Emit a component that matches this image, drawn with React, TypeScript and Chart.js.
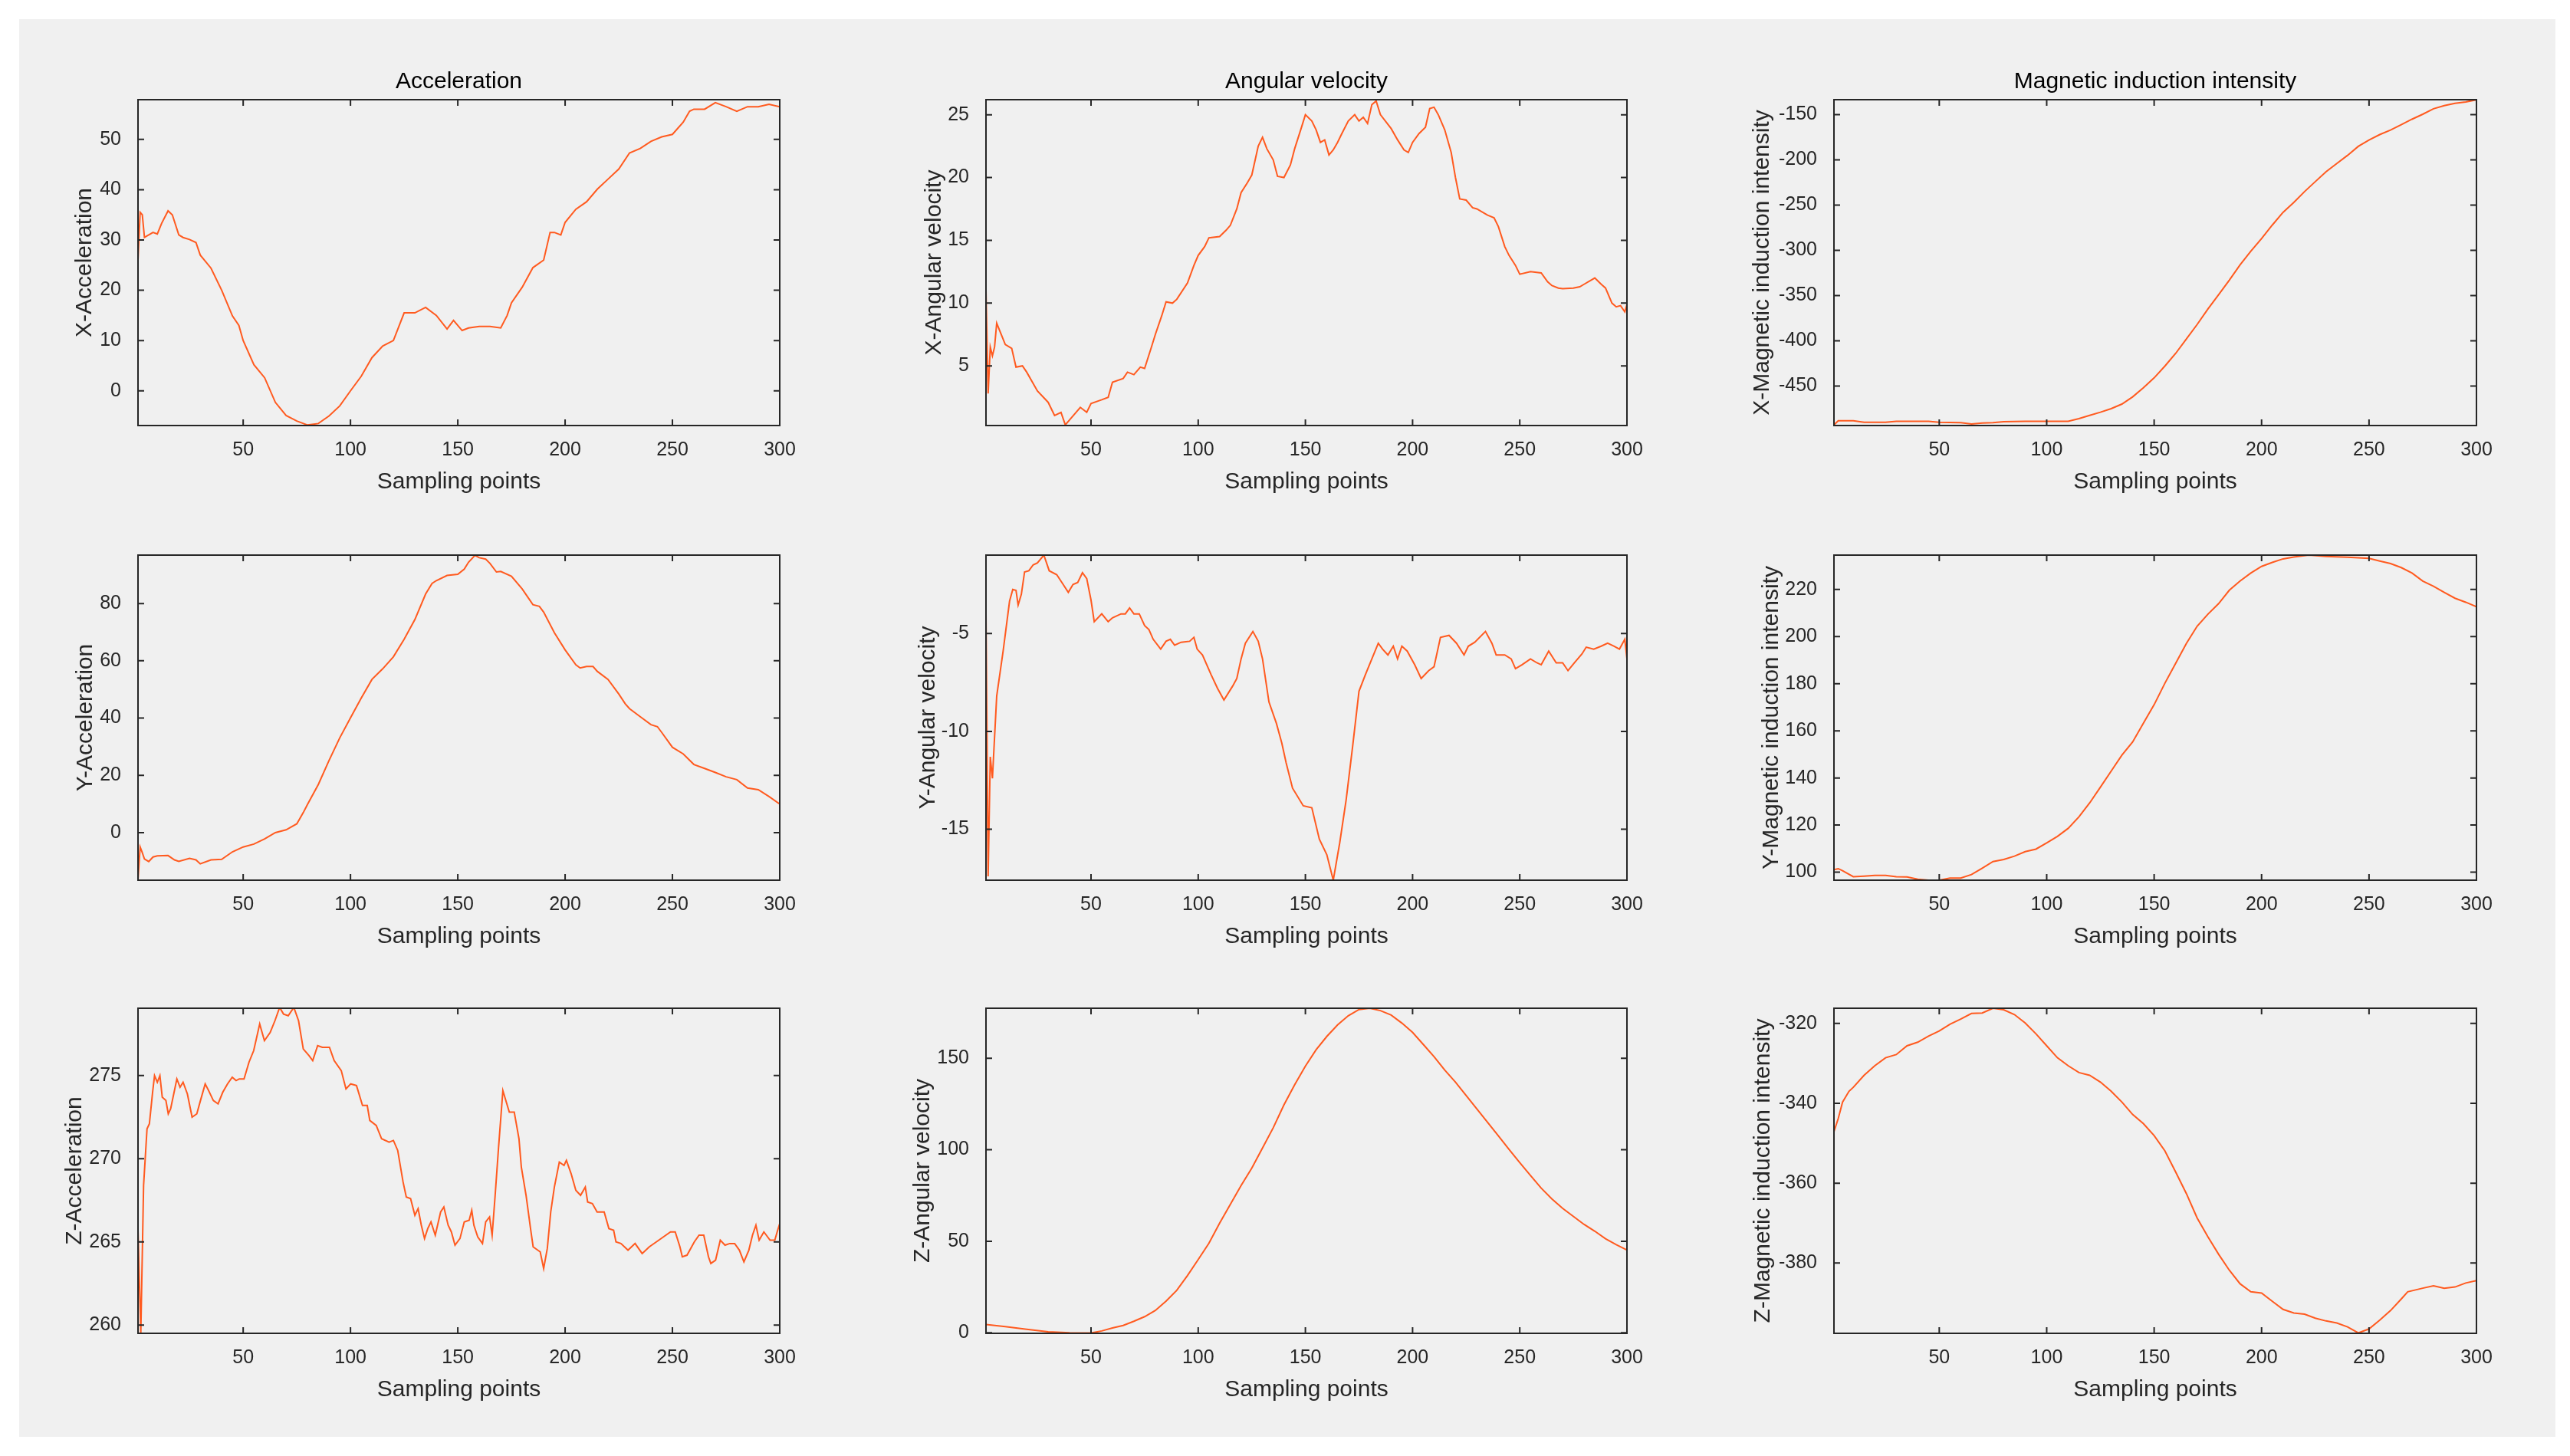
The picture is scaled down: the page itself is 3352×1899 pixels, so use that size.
import React, { useEffect, useRef } from "react";
import { Chart, registerables } from "chart.js";

Chart.register(...registerables);

// ---------- Text ----------
const columnTitles = ["Acceleration", "Angular velocity", "Magnetic induction intensity"];
const xAxisLabel = "Sampling points";
const yAxisLabels = [
  ["X-Acceleration", "X-Angular velocity", "X-Magnetic induction intensity"],
  ["Y-Acceleration", "Y-Angular velocity", "Y-Magnetic induction intensity"],
  ["Z-Acceleration", "Z-Angular velocity", "Z-Magnetic induction intensity"],
];

// ---------- Tick values ----------
const xTicks = [50, 100, 150, 200, 250, 300];
const accXTicks = [0, 10, 20, 30, 40, 50];
const angXTicks = [5, 10, 15, 20, 25];
const magXTicks = [-450, -400, -350, -300, -250, -200, -150];
const accYTicks = [0, 20, 40, 60, 80];
const angYTicks = [-15, -10, -5];
const magYTicks = [100, 120, 140, 160, 180, 200, 220];
const accZTicks = [260, 265, 270, 275];
const angZTicks = [0, 50, 100, 150];
const magZTicks = [-380, -360, -340, -320];

// ---------- Axis limits (tight to the data) ----------
const accXRange = [-6.9, 57.9];
const angXRange = [0.25, 26.2];
const magXRange = [-493.7, -133.4];
const accYRange = [-16.6, 96.9];
const angYRange = [-17.6, -1.0];
const magYRange = [96.6, 234.6];
const accZRange = [259.5, 279.05];
const angZRange = [-0.3, 177.3];
const magZRange = [-397.6, -316.2];

// ---------- Series (sampling point, value) ----------
const accXx = [1,2,3,4,8,10,12,15,17,20,22,25,28,30,35,40,45,48,50,55,60,65,70,75,80,85,90,95,100,105,110,115,120,125,130,135,140,145,148,152,155,160,165,170,173,175,180,185,190,193,195,198,200,205,210,215,220,225,230,235,240,245,250,255,258,260,265,270,275,280,285,290,295,300];
const accXy = [26,35.5,35,30.5,31.5,31.2,33.3,35.8,35,31,30.5,30.1,29.5,27,24.4,20,14.9,13,10,5.2,2.6,-2.3,-4.9,-6,-6.8,-6.5,-5,-3,0,2.9,6.6,8.9,10,15.5,15.5,16.6,15,12.3,14,12,12.5,12.8,12.8,12.5,15,17.5,20.6,24.5,26,31.5,31.5,31,33.5,36.1,37.6,40.1,42.1,44.1,47.3,48.2,49.6,50.5,51,53.4,55.6,56,56,57.3,56.5,55.6,56.5,56.5,57,56.5];

const angXx = [1,2,3,4,5,6,10,13,15,18,20,25,30,33,36,38,40,45,48,50,55,58,60,65,67,70,73,75,78,80,83,85,88,90,95,98,100,103,105,110,113,115,118,120,123,125,128,130,132,135,137,140,143,145,148,150,153,155,157,159,161,163,165,167,170,173,175,177,179,181,183,185,190,193,196,198,200,203,206,208,210,212,215,218,220,222,225,228,230,233,235,238,240,243,245,248,250,255,260,263,265,268,270,275,278,280,285,288,290,293,295,297,299,300];
const angXy = [11,2.8,6.5,5.8,6.5,8.4,6.7,6.4,4.9,5,4.5,3,2.1,1.05,1.3,0.3,0.7,1.7,1.3,2,2.3,2.5,3.7,4,4.5,4.3,4.9,4.8,6.4,7.5,9,10.1,10,10.3,11.6,13,13.8,14.5,15.2,15.3,15.8,16.2,17.5,18.8,19.6,20.2,22.5,23.2,22.3,21.4,20.1,20,21,22.3,23.9,25,24.5,23.8,22.8,23,21.8,22.2,22.8,23.5,24.5,25,24.5,24.8,24.3,25.8,26.1,25,23.9,23,22.2,22,22.8,23.5,24,25.5,25.6,25,23.8,22,20,18.3,18.2,17.6,17.5,17.2,17,16.8,16.1,14.5,13.8,13,12.3,12.5,12.4,11.7,11.4,11.2,11.15,11.2,11.3,11.5,12,11.5,11.2,10,9.7,9.8,9.3,9.9];

const magXx = [1,3,10,15,25,30,45,50,60,65,70,75,80,90,100,110,115,120,125,130,135,140,145,150,155,160,165,170,175,180,185,190,195,200,205,210,215,220,225,230,235,240,245,250,255,260,265,270,275,280,285,290,295,300];
const magXy = [-493,-488.5,-488.5,-490,-490,-489,-489,-490,-490.5,-492,-491,-490.5,-489.5,-489,-489,-489,-486,-482.5,-479,-475,-470,-462,-452,-441,-428,-414,-398,-382,-365,-349,-333,-316,-301,-287,-272,-258,-247,-235,-224,-213,-204,-195,-185,-178,-172,-167,-161,-155,-149.5,-143.5,-140,-137.5,-136,-133.5];

const accYx = [1,2,3,4,6,8,10,15,18,20,25,28,30,35,40,45,50,55,60,65,70,75,78,80,85,90,95,100,105,110,115,120,125,130,135,138,140,145,150,153,155,158,160,163,165,168,170,175,180,185,188,190,195,200,205,207,210,213,215,220,225,228,230,235,240,243,245,250,255,260,265,270,275,280,285,290,295,300];
const accYy = [-16.5,-5,-7,-9.2,-10.1,-8.5,-8.1,-8,-9.5,-10,-9,-9.5,-10.9,-9.5,-9.3,-6.7,-5,-4,-2.2,0,1,3.1,7,9.9,16.8,25.2,33.1,40.1,47,53.5,57.2,61.4,67.5,74.4,83.3,87,88,89.8,90.2,92,94.4,96.8,96,95.5,94,91,91.2,89.5,85.1,79.6,79,77,69.8,63.8,58.6,57.5,58,58,56.3,53.5,48.4,45,43.3,40.5,37.7,37,35,29.8,27.5,23.8,22.4,21,19.5,18.5,15.6,15,12.6,10];

const angYx = [1,2,3,4,6,9,12,13.5,15,16,17.5,19,21,23,25,28,30.5,34,37,39.4,41.6,43.8,46,48,50,51.5,55,58,60,64,66,68,70,72.5,75,77,79,82.5,85,87,89,92,96,98,99.5,102,106,109,112,116,118,120,122,125.5,128,130,133,136.5,139,141,144,149,153,156.5,160,163,166,169,172,175,178,181,184,186,188.5,191,193,195,197.5,201,204,207.5,210,213,217,220.5,224,226,229,234,237,239,243,246,248,251,255,258,260,263.5,267,270,272.5,275.5,279,281,284.5,288,291,294,296.5,299,300];
const angYy = [-4,-17.4,-11.3,-12.4,-8.2,-5.9,-3.35,-2.75,-2.8,-3.55,-3,-1.86,-1.8,-1.5,-1.4,-1,-1.8,-2,-2.5,-2.9,-2.5,-2.4,-1.9,-2.2,-3.3,-4.4,-4,-4.4,-4.2,-4,-4,-3.7,-4,-4,-4.6,-4.8,-5.3,-5.8,-5.4,-5.3,-5.6,-5.45,-5.4,-5.2,-5.8,-6.1,-7.1,-7.8,-8.4,-7.7,-7.3,-6.3,-5.5,-4.9,-5.4,-6.3,-8.5,-9.6,-10.6,-11.6,-12.9,-13.8,-13.9,-15.5,-16.3,-17.6,-15.7,-13.5,-10.8,-7.95,-7.1,-6.3,-5.5,-5.8,-6.1,-5.65,-6.3,-5.65,-5.9,-6.6,-7.3,-6.9,-6.7,-5.2,-5.1,-5.5,-6.1,-5.65,-5.45,-4.9,-5.5,-6.1,-6.1,-6.3,-6.8,-6.6,-6.3,-6.5,-6.6,-5.9,-6.5,-6.5,-6.9,-6.5,-6.05,-5.7,-5.8,-5.65,-5.5,-5.65,-5.8,-5.3,-6.3];

const magYx = [1,3,5,10,15,20,25,30,35,40,45,50,55,60,65,70,75,80,85,90,95,100,105,110,115,120,125,130,135,140,145,150,155,160,165,170,175,180,185,190,195,200,205,210,215,222,230,240,250,255,260,265,270,275,280,285,290,295,300];
const magYy = [101.1,101.5,100.6,98.1,98.3,98.6,98.6,98.1,98,97,96.6,96.6,97.5,97.5,99,101.7,104.5,105.4,106.8,108.7,109.8,112.4,115.2,118.6,123.5,129.4,136.1,142.9,149.7,155.3,163.2,171.1,180.2,188.6,197.1,204.4,209.5,214,219.7,223.6,227,229.8,231.5,233,233.8,234.6,234,233.7,233.2,232.1,231,229.3,227,223.6,221.4,218.8,216.3,214.6,212.7];

const accZx = [1,2.3,3.6,5.2,6.3,7.8,8.7,10,11.2,12.3,14,15.1,16.2,19.1,20.6,22,24,26.2,28.4,30.1,32.3,33.9,36.1,38.3,40.5,42.7,44.9,46.7,48.2,50.4,52.7,54.9,57.7,59.9,62.6,64.8,67,68.8,71,73.6,75.8,78,80.7,82.4,84.7,86.9,90.2,92.4,95.7,97.9,100.1,102.8,105.6,107.8,109,112,114.5,118,120,122,124.5,126,128,130,131.5,133,134.5,136,137.5,139.5,142,143.5,145.5,147,148.7,151,153,155.3,156.5,157.5,159.3,161.5,163,164.8,166,167.4,169,171,174,176.3,177.4,178.5,179.6,181.8,184,185.1,188.4,190,191.7,193.3,195,197.3,199.5,200.6,202.8,205,207.2,209.4,210.5,212.7,214.9,218.2,220.4,222.6,223.7,226,229.3,232.6,235.9,239.2,242.5,245.8,249.1,251.3,253.5,254.6,256.8,260.2,262.4,264.6,266.8,267.9,270.1,272.3,274.5,276.7,279,281.2,283.3,285.6,287.3,288.9,290.4,292.6,295.5,297.7,298.8,300];
const accZy = [265.7,259.5,268.4,271.8,272.1,274,275,274.6,275,273.7,273.5,272.7,273,274.8,274.3,274.6,273.9,272.5,272.7,273.5,274.5,274.1,273.5,273.3,274,274.5,274.9,274.7,274.8,274.8,275.8,276.5,278.1,277.1,277.6,278.3,279.1,278.7,278.6,279.1,278.3,276.6,276.2,275.9,276.8,276.7,276.7,275.9,275.3,274.2,274.5,274.4,273.2,273.2,272.3,272,271.2,271,271.1,270.5,268.6,267.7,267.6,266.6,267,266,265.2,265.8,266.2,265.4,266.8,267.1,266,265.6,264.8,265.2,266.2,266.3,266.9,266,265.3,264.9,266.2,266.5,265.4,267.8,270.7,274.1,272.8,272.8,272,271.2,269.5,267.8,265.7,264.7,264.4,263.4,264.6,266.8,268.3,269.8,269.6,269.9,269.1,268.1,267.8,268.3,267.4,267.3,266.8,266.8,265.8,265.7,265,264.9,264.5,264.9,264.3,264.7,265,265.3,265.6,265.6,264.7,264.1,264.2,265,265.4,265.4,264.1,263.7,263.9,265.1,264.8,264.9,264.9,264.5,263.8,264.5,265.4,266,265.1,265.6,265.1,265.1,265.6,266.1];

const angZx = [1,10,20,30,40,50,55,60,65,70,75,80,85,90,95,100,105,110,115,120,125,130,135,140,145,150,155,160,165,170,175,180,185,190,195,200,205,210,215,220,225,230,235,240,245,250,255,260,265,270,275,280,285,290,295,300];
const angZy = [4.5,3.4,1.9,0.5,0,-0.1,1,2.6,4,6.3,8.8,12.2,17.3,23.2,31.3,40,48.9,59.9,70.2,80.4,90,101,112,124.5,135.5,145.7,154.6,161.9,168.2,173.2,176.6,177.3,176,173.6,169.2,164.1,157.5,150.9,143.5,136.9,129.6,122.3,114.9,107.6,100.2,92.9,85.9,79,73.1,68,63.6,59.2,55.5,51.4,48.1,45.2];

const magZx = [1,3,5,8,10,15,20,25,30,35,40,45,50,55,60,65,70,75,80,85,90,95,100,105,110,115,120,125,130,135,140,145,150,155,160,165,170,175,180,185,190,195,200,205,210,215,220,225,230,235,240,245,250,255,260,265,268,275,280,285,290,295,300];
const magZy = [-347.1,-343.8,-339.7,-337,-336,-333,-330.6,-328.6,-327.8,-325.6,-324.7,-323.2,-321.9,-320.2,-318.9,-317.5,-317.4,-316.2,-316.6,-317.8,-319.9,-322.6,-325.6,-328.6,-330.6,-332.3,-333,-334.7,-337,-339.7,-342.8,-345.1,-348.1,-351.9,-357.2,-362.6,-368.7,-373.4,-377.8,-381.8,-385.2,-387.2,-387.5,-389.6,-391.6,-392.5,-392.8,-393.8,-394.5,-395,-396,-397.5,-396.5,-394.3,-391.9,-389,-387.2,-386.3,-385.7,-386.3,-386,-385,-384.4];

// ---------- Panel table (built from the arrays above) ----------
const panelSeries = [
  [
    { xs: accXx, ys: accXy, range: accXRange, ticks: accXTicks },
    { xs: angXx, ys: angXy, range: angXRange, ticks: angXTicks },
    { xs: magXx, ys: magXy, range: magXRange, ticks: magXTicks },
  ],
  [
    { xs: accYx, ys: accYy, range: accYRange, ticks: accYTicks },
    { xs: angYx, ys: angYy, range: angYRange, ticks: angYTicks },
    { xs: magYx, ys: magYy, range: magYRange, ticks: magYTicks },
  ],
  [
    { xs: accZx, ys: accZy, range: accZRange, ticks: accZTicks },
    { xs: angZx, ys: angZy, range: angZRange, ticks: angZTicks },
    { xs: magZx, ys: magZy, range: magZRange, ticks: magZTicks },
  ],
];

// ---------- Layout (pixels) ----------
const AX_L = [180, 1286, 2392];
const AX_R = [1017, 2122, 3230];
const AX_T = [130, 724, 1315];
const AX_B = [555, 1148, 1739];
const Y_TITLE_X = [
  [111, 1219, 2299],
  [112, 1211, 2311],
  [98, 1204, 2300],
];
const TOP_EXTRA = 60;
const RIGHT_EXTRA = 40;
const BOTTOM_EXTRA = 92;

const FONT = "'Liberation Sans', Arial, Helvetica, sans-serif";
const LINE_COLOR = "#ff5a1f";
const AXIS_COLOR = "#262626";

const matlabBox = {
  id: "matlabBox",
  afterDatasetsDraw(chart: any) {
    const { ctx, chartArea: a, scales } = chart;
    const tl = 8;
    ctx.save();
    ctx.strokeStyle = AXIS_COLOR;
    ctx.lineWidth = 2;
    ctx.beginPath();
    for (const t of scales.x.ticks) {
      const px = scales.x.getPixelForValue(t.value);
      ctx.moveTo(px, a.bottom);
      ctx.lineTo(px, a.bottom - tl);
      ctx.moveTo(px, a.top);
      ctx.lineTo(px, a.top + tl);
    }
    for (const t of scales.y.ticks) {
      const py = scales.y.getPixelForValue(t.value);
      ctx.moveTo(a.left, py);
      ctx.lineTo(a.left + tl, py);
      ctx.moveTo(a.right, py);
      ctx.lineTo(a.right - tl, py);
    }
    ctx.stroke();
    ctx.strokeRect(a.left, a.top, a.right - a.left, a.bottom - a.top);
    ctx.restore();
  },
};

function Panel({ r, c }: { r: number; c: number }) {
  const ref = useRef<HTMLCanvasElement>(null);
  const s = panelSeries[r][c];
  const lw = AX_L[c] - Y_TITLE_X[r][c] + 18;
  const left = AX_L[c] - lw;
  const top = AX_T[r] - TOP_EXTRA;
  const width = lw + (AX_R[c] - AX_L[c]) + RIGHT_EXTRA;
  const height = TOP_EXTRA + (AX_B[r] - AX_T[r]) + BOTTOM_EXTRA;

  useEffect(() => {
    const data = s.xs.map((x: number, i: number) => ({ x, y: s.ys[i] }));
    const yTickList = s.ticks;
    const chart = new Chart(ref.current as HTMLCanvasElement, {
      type: "line",
      data: {
        datasets: [
          {
            data,
            borderColor: LINE_COLOR,
            borderWidth: 2,
            pointRadius: 0,
            tension: 0,
            fill: false,
          },
        ],
      },
      options: {
        animation: false,
        responsive: false,
        devicePixelRatio: 1,
        parsing: false,
        layout: { padding: { top: r === 0 ? 19 : TOP_EXTRA, right: RIGHT_EXTRA, left: 0, bottom: 0 } },
        plugins: {
          legend: { display: false },
          tooltip: { enabled: false },
          title: {
            display: r === 0,
            text: columnTitles[c],
            fullSize: false,
            color: "#000000",
            font: { family: FONT, size: 30, weight: "normal" },
            padding: { top: 0, bottom: 5 },
          },
        },
        scales: {
          x: {
            type: "linear",
            min: 1,
            max: 300,
            grid: { display: false },
            border: { display: false },
            afterBuildTicks: (axis: any) => {
              axis.ticks = xTicks.map((v) => ({ value: v }));
            },
            afterFit: (axis: any) => {
              axis.height = BOTTOM_EXTRA;
            },
            ticks: {
              autoSkip: false,
              maxRotation: 0,
              padding: 9,
              color: AXIS_COLOR,
              font: { family: FONT, size: 25 },
            },
            title: {
              display: true,
              text: xAxisLabel,
              color: AXIS_COLOR,
              font: { family: FONT, size: 30 },
              padding: { top: 0, bottom: 0 },
            },
          },
          y: {
            type: "linear",
            min: s.range[0],
            max: s.range[1],
            grid: { display: false },
            border: { display: false },
            afterBuildTicks: (axis: any) => {
              axis.ticks = yTickList.map((v: number) => ({ value: v }));
            },
            afterFit: (axis: any) => {
              axis.width = lw;
            },
            ticks: {
              autoSkip: false,
              padding: 14,
              color: AXIS_COLOR,
              font: { family: FONT, size: 25 },
            },
            title: {
              display: true,
              text: yAxisLabels[r][c],
              color: AXIS_COLOR,
              font: { family: FONT, size: 30 },
              padding: { top: 0, bottom: 0 },
            },
          },
        },
      },
      plugins: [matlabBox],
    } as any);
    return () => chart.destroy();
  }, []);

  return (
    <canvas
      ref={ref}
      width={width}
      height={height}
      style={{ position: "absolute", left, top, width, height }}
    />
  );
}

export default function App() {
  useEffect(() => {
    document.body.style.margin = "0";
    document.body.style.overflow = "hidden";
  }, []);
  const panels = [];
  for (let r = 0; r < 3; r++) for (let c = 0; c < 3; c++) panels.push(<Panel key={`${r}-${c}`} r={r} c={c} />);
  return (
    <div style={{ position: "absolute", left: 0, top: 0, width: 3352, height: 1899, background: "#ffffff", overflow: "hidden" }}>
      <div style={{ position: "absolute", left: 25, top: 25, width: 3308, height: 1849, background: "#f0f0f0" }} />
      {panels}
    </div>
  );
}
